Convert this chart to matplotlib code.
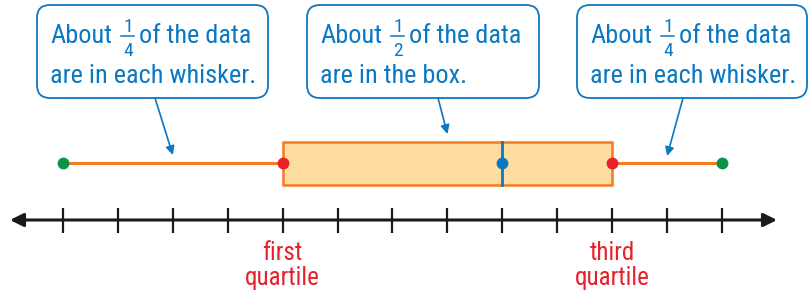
import matplotlib.pyplot as plt
from matplotlib.patches import FancyBboxPatch, Rectangle
from matplotlib import font_manager

# Data
tick_values = list(range(0, 13))
five_numbers = {"min": 0, "q1": 4, "median": 8, "q3": 10, "max": 12}
quartile_labels = ["first\nquartile", "third\nquartile"]
callout_fractions = [("1", "4"), ("1", "2"), ("1", "4")]
callout_second_lines = ["are in each whisker.", "are in the box.", "are in each whisker."]
callout_targets = [2, 7, 11]

# Colors
BLUE = "#0a78c2"
ORANGE = "#f47b20"
BOX_FILL = "#fedca0"
RED = "#e8202a"
GREEN = "#0b9448"
BLACK = "#1a1a1a"

names = {f.name for f in font_manager.fontManager.ttflist}
FONT = "DejaVu Sans"
for cand in ["Liberation Sans Narrow", "DejaVu Sans Condensed", "Roboto Condensed", "Lato"]:
    if cand in names:
        FONT = cand
        break
plt.rcParams["font.family"] = [FONT, "DejaVu Sans"]

W, H = 809, 293
fig = plt.figure(figsize=(W / 100, H / 100), dpi=100)
renderer = fig.canvas.get_renderer()


def text_width(s, size):
    t = fig.text(0, 0, s, fontsize=size)
    w = t.get_window_extent(renderer).width
    t.remove()
    return w


# fit fonts to the widths measured on the reference
FS = 18 * 207 / text_width("are in each whisker.", 18)
FS_FRAC = 14
LAB_FS = 18 * 75 / text_width("quartile", 18)

# Main axes: x in data units, y in pixel rows
ax = fig.add_axes([0, 0, 1, 1])
px_per_unit = (722 - 63) / 12
ax.set_xlim(-63 / px_per_unit, 12 + (W - 722) / px_per_unit)
ax.set_ylim(H, 0)
ax.axis("off")

# Overlay in pixel coordinates for callouts
lay = fig.add_axes([0, 0, 1, 1], zorder=3)
lay.set_xlim(0, W)
lay.set_ylim(H, 0)
lay.axis("off")
lay.patch.set_alpha(0)

# Number line
axis_y = 220
ax.annotate("", xy=(ax.get_xlim()[0] + 10 / px_per_unit, axis_y),
            xytext=(ax.get_xlim()[1] - 32 / px_per_unit, axis_y),
            arrowprops=dict(arrowstyle="<|-|>", color=BLACK, lw=2.2,
                            mutation_scale=20, shrinkA=0, shrinkB=0))
for t in tick_values:
    ax.plot([t, t], [208, 233], color=BLACK, lw=1.6, solid_capstyle="butt")

# Box and whiskers
wy = 163
box_top, box_bot = 142, 185
ax.plot([five_numbers["min"], five_numbers["q1"]], [wy, wy], color=ORANGE, lw=2.2, zorder=2)
ax.plot([five_numbers["q3"], five_numbers["max"]], [wy, wy], color=ORANGE, lw=2.2, zorder=2)
ax.add_patch(Rectangle((five_numbers["q1"], box_top),
                       five_numbers["q3"] - five_numbers["q1"], box_bot - box_top,
                       facecolor=BOX_FILL, edgecolor=ORANGE, lw=1.8, zorder=2))
ax.plot([five_numbers["median"]] * 2, [box_top, box_bot], color=BLUE, lw=2, zorder=3)
ax.plot([five_numbers["min"], five_numbers["max"]], [wy, wy], "o", color=GREEN, ms=7.5, zorder=4)
ax.plot([five_numbers["q1"], five_numbers["q3"]], [wy, wy], "o", color=RED, ms=7.5, zorder=4)
ax.plot([five_numbers["median"]], [wy], "o", color=BLUE, ms=7.5, zorder=4)

# Quartile labels
for val, lab in zip([five_numbers["q1"], five_numbers["q3"]], quartile_labels):
    first, second = lab.split("\n")
    ax.text(val, 260, first, color=RED, fontsize=LAB_FS, ha="center", va="baseline")
    ax.text(val, 285, second, color=RED, fontsize=LAB_FS, ha="center", va="baseline")

# Callouts
boxes = [(37, 268), (307, 539), (577, 807)]
for (x0, x1), (num, den), line2, target in zip(boxes, callout_fractions,
                                                callout_second_lines, callout_targets):
    lay.add_patch(FancyBboxPatch((x0, 5), x1 - x0, 93,
                                 boxstyle="round,pad=0,rounding_size=13",
                                 facecolor="white", edgecolor=BLUE, lw=1.3))
    tx = x0 + 13
    lay.text(tx, 43, "About", color=BLUE, fontsize=FS, ha="left", va="baseline")
    fx = tx + text_width("About", FS) + 16
    lay.text(fx, 32, num, color=BLUE, fontsize=FS_FRAC, ha="center", va="baseline")
    lay.plot([fx - 6.5, fx + 6.5], [36, 36], color=BLUE, lw=1.1)
    lay.text(fx, 56, den, color=BLUE, fontsize=FS_FRAC, ha="center", va="baseline")
    lay.text(fx + 11, 43, "of the data", color=BLUE, fontsize=FS, ha="left", va="baseline")
    lay.text(tx, 83, line2, color=BLUE, fontsize=FS, ha="left", va="baseline")

# Arrows from callouts
starts = [(155, 98), (438, 98), (683, 98)]
tip_y = [155, 134, 156]
for (sx, sy), tx, ty in zip(starts, callout_targets, tip_y):
    ax.annotate("", xy=(tx, ty), xytext=(sx, sy), textcoords=lay.transData,
                arrowprops=dict(arrowstyle="-|>", color=BLUE, lw=1.2,
                                mutation_scale=13, shrinkA=0, shrinkB=0), zorder=5)

fig.savefig("out.png", dpi=100)
